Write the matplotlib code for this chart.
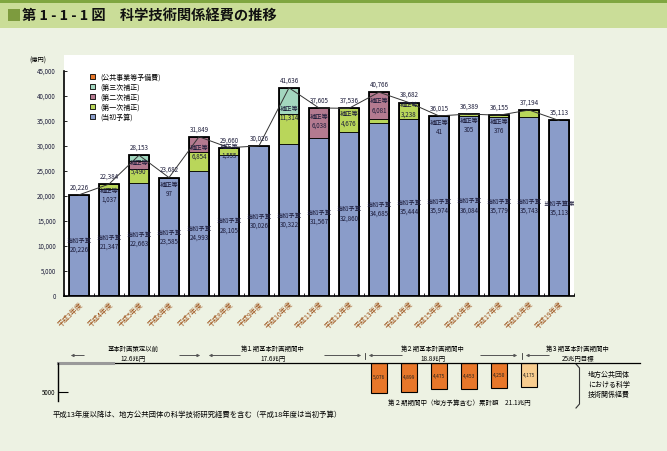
import numpy as np
import matplotlib
matplotlib.use('Agg')
import matplotlib.pyplot as plt
from matplotlib.patches import Rectangle, Patch

plt.rcParams['font.family'] = ['Noto Sans CJK JP', 'DejaVu Sans']

# --- data (億円) ---
years = ['平成3年度', '平成4年度', '平成5年度', '平成6年度', '平成7年度', '平成8年度',
         '平成9年度', '平成10年度', '平成11年度', '平成12年度', '平成13年度', '平成14年度',
         '平成15年度', '平成16年度', '平成17年度', '平成18年度', '平成19年度']
initial = [20226, 21347, 22663, 23585, 24993, 28105, 30026, 30322, 31567, 32860,
           34685, 35444, 35974, 36084, 35779, 35743, 35113]
supp1 = [0, 1037, 2650, 97, 3800, 1555, 0, 6000, 0, 4676, 700, 3238, 41, 305, 376, 1451, 0]
supp2 = [0, 0, 1650, 0, 3054, 0, 0, 0, 6038, 0, 5381, 0, 0, 0, 0, 0, 0]
supp3 = [0, 0, 1190, 0, 0, 0, 0, 5314, 0, 0, 0, 0, 0, 0, 0, 0, 0]
reserve = [0] * 17
totals = [20226, 22384, 28153, 23682, 31849, 29660, 30026, 41636, 37605, 37536,
          40766, 38682, 36015, 36389, 36155, 37194, 35113]
supp_labels = [None, 1037, 5490, 97, 6854, 1555, None, 11314, 6038, 4676, 6081,
               3238, 41, 305, 376, None, None]

# local government S&T spending, shown below the chart (平成13-18年度)
local_idx = [10, 11, 12, 13, 14, 15]
local_vals = [5076, 4899, 4475, 4453, 4250, 4175]

# --- colours ---
BG = '#EDF2E3'
BLUE = '#8A9CC9'
GREEN = '#B9D65A'
PINK = '#B47A90'
TEAL = '#A3D7BF'
ORANGE = '#E8772A'
LIGHT_ORANGE = '#F8CD8F'
NUM = '#1c1c3a'

W, H = 667, 451
fig = plt.figure(figsize=(W / 100, H / 100), dpi=100, facecolor=BG)

# overlay in pixel coordinates for decorations
ov = fig.add_axes([0, 0, 1, 1])
ov.set_xlim(0, W)
ov.set_ylim(H, 0)
ov.axis('off')

# title band
ov.add_patch(Rectangle((0, 0), W, 28, color='#CADD98', lw=0))
ov.add_patch(Rectangle((0, 0), W, 3, color='#7FA640', lw=0))
ov.add_patch(Rectangle((8, 9), 12, 12, color='#7D9B3E', lw=0))
ov.text(22, 15.5, '第 1 - 1 - 1 図　科学技術関係経費の推移', fontsize=10.3,
        fontweight='bold', va='center', ha='left', color='#111111')

# white panel behind the chart
ov.add_patch(Rectangle((64, 55), 510, 242, color='white', lw=0))
ov.text(38, 61, '(億円)', fontsize=4.5, ha='center', va='center')

# --- main chart ---
ax = fig.add_axes([64 / W, 1 - 296 / H, 510 / W, 225 / H])
ax.set_facecolor('white')
x = np.arange(len(years))
bw = 0.66
bottom = np.zeros(len(years))
for vals, col in [(initial, BLUE), (supp1, GREEN), (supp2, PINK), (supp3, TEAL), (reserve, ORANGE)]:
    vals = np.array(vals, dtype=float)
    m = vals > 0
    ax.bar(x[m], vals[m], bottom=bottom[m], width=bw, color=col, edgecolor='black', linewidth=0.6)
    bottom += vals
ax.bar(x, bottom, width=bw, fill=False, edgecolor='black', linewidth=1.3)

ax.plot(x, totals, color='#333333', lw=0.7, zorder=5)

for i, t in enumerate(totals):
    ax.annotate(f'{t:,}', (i, t), xytext=(0, 2.5), textcoords='offset points',
                ha='center', va='bottom', fontsize=4.5, color=NUM, zorder=6)

# 当初予算 labels
for i, v in enumerate(initial):
    name = '当初予算案' if i == len(initial) - 1 else '当初予算'
    ax.text(i, v * 0.5, name + '\n' + f'{v:,}', ha='center', va='center', fontsize=4.5,
            color=NUM, linespacing=1.15, zorder=6)

# 補正等 labels
for i, s in enumerate(supp_labels):
    if s is None:
        continue
    if s < 1200:
        yl = totals[i] - 2300
    else:
        yl = initial[i] + s * 0.55
    ax.text(i, yl, '補正等\n' + f'{s:,}', ha='center', va='center', fontsize=4.5,
            color=NUM, linespacing=1.15, zorder=6)

ax.set_xlim(-0.5, len(years) - 0.5)
ax.set_ylim(0, 45000)
yt = np.arange(0, 45001, 5000)
ax.set_yticks(yt)
ax.set_yticklabels([f'{v:,}' for v in yt], fontsize=4.5, color=NUM)
ax.tick_params(axis='y', direction='in', length=2, width=0.6, pad=6)
ax.set_xticks(np.arange(-0.5, len(years), 1))
ax.set_xticklabels([])
ax.set_xticks(x, minor=True)
ax.set_xticklabels(years, minor=True, rotation=45, ha='right', rotation_mode='anchor',
                   fontsize=5, color='#9a4a10')
ax.tick_params(axis='x', which='major', direction='in', length=2, width=0.6)
ax.tick_params(axis='x', which='minor', length=0, pad=3)
for s in ['top', 'right']:
    ax.spines[s].set_visible(False)
for s in ['left', 'bottom']:
    ax.spines[s].set_linewidth(1.2)

handles = [Patch(facecolor=c, edgecolor='black', linewidth=0.6)
           for c in [ORANGE, TEAL, PINK, GREEN, BLUE]]
names = ['(公共事業等予備費)', '(第三次補正)', '(第二次補正)', '(第一次補正)', '(当初予算)']
ax.legend(handles, names, loc='upper left', bbox_to_anchor=(0.045, 1.005), frameon=False,
          fontsize=5, handlelength=0.7, handleheight=0.7, labelspacing=0.28,
          handletextpad=0.7, borderpad=0)

# --- local government boxes below ---
ax2 = fig.add_axes([58 / W, 1 - 401 / H, 516 / W, 38 / H])
ax2.patch.set_visible(False)
ax2.set_xlim(-0.7, len(years) - 0.5)
ax2.set_ylim(6500, 0)
for s in ['top', 'right', 'bottom']:
    ax2.spines[s].set_visible(False)
ax2.spines['left'].set_linewidth(1.0)
ax2.set_xticks([])
ax2.set_yticks([5000])
ax2.set_yticklabels(['5000'], fontsize=4.5)
ax2.tick_params(axis='y', direction='in', length=7, width=0.8, pad=2)
ax2.plot([0, (640 - 58) / 516], [1, 1], transform=ax2.transAxes, color='black',
         lw=0.9, clip_on=False)
ax2.plot([0, 55 / 516], [1, 1], transform=ax2.transAxes, color='#9a9a9a',
         lw=2.2, clip_on=False)
box_cols = [ORANGE] * (len(local_vals) - 1) + [LIGHT_ORANGE]
ax2.bar(local_idx, local_vals, width=0.55, color=box_cols, edgecolor='black', linewidth=0.8)
for i, v in zip(local_idx, local_vals):
    ax2.text(i, v / 2, f'{v:,}', ha='center', va='center', fontsize=3.5, color='#222222')

# --- plan period timeline ---
arrow_kw = dict(arrowstyle='-|>', color='#555555', lw=0.7, mutation_scale=4)
periods = [
    ('基本計画策定以前\n12.6兆円', 133, [(87, 68), (177, 203)]),
    ('第１期基本計画期間中\n17.6兆円', 273, [(243, 206), (322, 364)]),
    ('第２期基本計画期間中\n18.8兆円', 433, [(405, 366), (478, 520)]),
    ('第３期基本計画期間中\n25兆円目標', 578, [(552, 523)]),
]
for txt, cx, arrows in periods:
    ov.text(cx, 354, txt, ha='center', va='center', fontsize=4.6, linespacing=1.2)
    for x0, x1 in arrows:
        ov.annotate('', xy=(x1, 355.5), xytext=(x0, 355.5), arrowprops=arrow_kw)
for xb in [365, 521.5]:
    ov.plot([xb, xb], [352.5, 358.5], color='#333333', lw=0.6)

# bracket and caption for local government spending
ov.plot([576, 579.5, 579.5, 576], [364, 368, 404, 408], color='#333333', lw=0.8)
ov.text(588, 385, '地方公共団体\nにおける科学\n技術関係経費', ha='left', va='center',
        fontsize=5, linespacing=1.3)
ov.text(459, 403, '第２期期間中（地方予算含む）累計額　21.1兆円', ha='center', va='center',
        fontsize=4.7)
ov.text(53, 415, '平成13年度以降は、地方公共団体の科学技術研究経費を含む（平成18年度は当初予算）',
        ha='left', va='center', fontsize=5.3)

fig.savefig('out.png', dpi=100, facecolor=BG)
